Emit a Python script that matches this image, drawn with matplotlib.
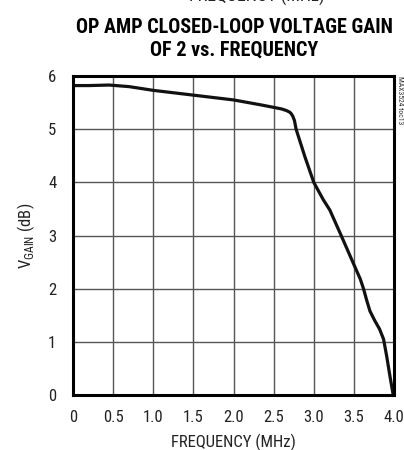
import numpy as np
import matplotlib.pyplot as plt

# values
freq_mhz = [0.0, 0.2, 0.45, 0.7, 1.0, 1.5, 2.0, 2.33, 2.5, 2.60, 2.66, 2.70, 2.72, 2.74,
            2.76, 2.78, 2.89, 3.00, 3.12, 3.20, 3.33, 3.42, 3.51, 3.58, 3.62, 3.66,
            3.70, 3.76, 3.82, 3.87, 3.91, 3.95, 3.99]
gain_db = [5.82, 5.82, 5.83, 5.80, 5.73, 5.64, 5.55, 5.46, 5.41, 5.38, 5.35, 5.32, 5.29, 5.24,
           5.16, 5.00, 4.48, 4.00, 3.67, 3.48, 3.04, 2.73, 2.42, 2.18, 2.00, 1.78,
           1.58, 1.40, 1.24, 1.05, 0.72, 0.35, 0.0]
xticks = [0, 0.5, 1.0, 1.5, 2.0, 2.5, 3.0, 3.5, 4.0]
xtick_labels = ['0', '0.5', '1.0', '1.5', '2.0', '2.5', '3.0', '3.5', '4.0']
yticks = [0, 1, 2, 3, 4, 5, 6]

font = 'Roboto Condensed'
plt.rcParams['font.family'] = [font, 'DejaVu Sans']
plt.rcParams['mathtext.fontset'] = 'custom'
plt.rcParams['mathtext.rm'] = font

fig = plt.figure(figsize=(4.04, 4.5), dpi=100)
ax = fig.add_axes([73 / 404, 1 - 395 / 450, 321 / 404, 319 / 450])

ax.plot(freq_mhz, gain_db, color='#111111', lw=2.3, solid_capstyle='round',
        solid_joinstyle='round')
ax.set_xlim(0, 4.0)
ax.set_ylim(0, 6)
ax.set_xticks(xticks)
ax.set_xticklabels(xtick_labels)
ax.set_yticks(yticks)
ax.grid(True, color='#555555', lw=1.0)
ax.tick_params(length=0, labelsize=12, colors='#222222')
ax.tick_params(axis='x', pad=11)
ax.tick_params(axis='y', pad=12)
for s in ax.spines.values():
    s.set_linewidth(2.2)
    s.set_color('black')

ax.set_xlabel('FREQUENCY (MHz)', fontsize=12, color='#222222', labelpad=6)
ax.set_ylabel(r'V$_{\mathrm{GAIN}}$ (dB)', fontsize=12, color='#222222', labelpad=8)

fig.text(234 / 404, 1 - 39 / 450, 'OP AMP CLOSED-LOOP VOLTAGE GAIN\nOF 2 vs. FREQUENCY',
         ha='center', va='center', fontsize=14.5, fontweight='bold', linespacing=1.25)
fig.text(257 / 404, 1 - (-4) / 450, 'FREQUENCY (MHz)', ha='center', va='center',
         fontsize=13, color='#222222')
fig.text(400 / 404, 1 - 76 / 450, 'MAX3524 toc13', rotation=-90, ha='center', va='top',
         fontsize=5.5, color='#333333')

fig.savefig('out.png', dpi=100)
